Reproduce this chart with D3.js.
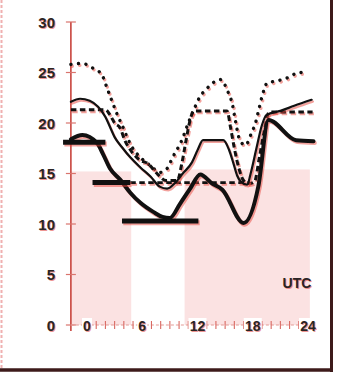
<!DOCTYPE html>
<html>
<head>
<meta charset="utf-8">
<script src="https://cdn.jsdelivr.net/npm/d3@7"></script>
<style>
  body { margin: 0; background: #fff; }
  svg { display: block; }
  text { font-family: "Liberation Sans", Arial, sans-serif; font-weight: bold; }
</style>
</head>
<body>
<script>
// ---- data (hour UTC, temperature) ----
const yTicks = [0, 5, 10, 15, 20, 25, 30];
const xTickLabels = [0, 6, 12, 18, 24];
const xMinorTicks = [1, 2, 3, 4, 5, 7, 8, 9, 10, 11, 13, 14, 15, 16, 17, 19, 20, 21, 22, 23];

// dotted upper line
const hiHours = [-1.75,-0.5,0.5,1.6,2.2,2.7,3.3,3.9,4.4,4.9,5.8,7.0,7.9,8.7,9.3,10.3,11.0,11.6,12.2,13.0,14.5,15.3,15.8,16.1,16.6,17.2,17.9,18.3,18.6,19.0,19.6,20.2,21.2,22.1,22.9,24.0];
const hiValues = [25.8,25.9,25.5,24.8,23.4,22.2,20.8,19.6,18.5,17.6,16.6,15.7,15.1,15.5,16.6,18.3,20.0,21.3,22.5,23.4,24.3,23.1,21.8,20.3,18.3,17.8,19.1,20.0,21.1,22.6,24.0,24.1,24.3,24.6,25.0,25.0];

// dashed line
const dashHours = [-1.75,2.0,2.5,3.0,3.6,4.1,4.9,5.8,6.6,7.6,8.6,9.8,10.3,10.8,11.2,11.6,15.2,15.6,16.0,16.5,17.0,17.6,18.2,18.7,19.2,19.8,24.5];
const dashValues = [21.3,21.3,20.8,20.0,19.5,18.3,17.1,16.3,16.0,15.0,14.3,14.3,16.0,18.5,20.3,21.2,21.2,19.5,17.5,15.5,14.3,14.0,14.2,16.5,19.0,21.1,21.1];

// thin solid line
const meanHours = [-1.75,-0.75,0.3,1.2,2.0,2.5,3.0,3.8,4.7,5.8,6.9,7.9,8.7,9.6,10.4,11.4,12.0,12.6,14.8,15.4,15.9,16.3,16.7,17.4,17.8,18.4,19.0,19.5,21.0,22.5,24.4];
const meanValues = [22.1,22.4,22.2,21.6,20.6,19.6,18.6,17.6,16.6,15.6,14.7,13.7,13.5,14.1,15.0,16.1,17.3,18.3,18.3,17.4,16.0,14.8,14.2,13.9,15.1,17.5,19.8,20.8,21.2,21.7,22.3];

// thick solid line
const obsHours = [-1.75,-0.5,1.1,1.7,2.5,3.6,4.7,5.8,7.2,8.2,9.0,10.1,11.2,12.3,13.6,14.7,17.0,18.6,19.7,22.7,24.6];
const obsValues = [18.4,18.8,18.0,17.0,15.5,14.4,13.1,12.1,11.2,10.7,10.6,12.0,13.5,14.9,14.0,13.4,10.1,13.7,20.3,18.3,18.2];

// thick horizontal bars [from hour, to hour, value]
const barSegments = [[-2.6, 2.0, 18.1], [0.6, 4.7, 14.1], [3.8, 12.1, 10.3]];
// dashed horizontal [from hour, to hour, value]
const dashSegments = [[4.7, 17.7, 14.1]];
// pink shaded periods [from hour, to hour, top value]
const shadePeriods = [[-1.75, 4.8, 15.2], [10.6, 24.2, 15.4]];

const width = 338, height = 378;

const x = d3.scaleLinear().domain([0, 24]).range([87, 308]);
const y = d3.scaleLinear().domain([0, 30]).range([325, 22]);
const axisX = x(-1.75);

const svg = d3.select("body").append("svg")
  .attr("width", width)
  .attr("height", height);

// frame
svg.append("rect").attr("x", 0).attr("y", 0).attr("width", width).attr("height", height).attr("fill", "#fff");
svg.append("line").attr("x1", 1.5).attr("x2", 1.5).attr("y1", 0).attr("y2", 370)
  .attr("stroke", "#f0b0b0").attr("stroke-width", 2).attr("stroke-dasharray", "3,2");
svg.append("line").attr("x1", 0).attr("x2", 333).attr("y1", 370).attr("y2", 370)
  .attr("stroke", "#3d1a1a").attr("stroke-width", 3.5);
svg.append("line").attr("x1", 331.5).attr("x2", 331.5).attr("y1", 0).attr("y2", 372)
  .attr("stroke", "#3d1a1a").attr("stroke-width", 3);

// pink shading
svg.append("g").selectAll("rect")
  .data(shadePeriods)
  .join("rect")
  .attr("x", d => x(d[0]))
  .attr("width", d => x(d[1]) - x(d[0]))
  .attr("y", d => y(d[2]))
  .attr("height", d => y(0) - y(d[2]))
  .attr("fill", "#f9cfcf")
  .attr("opacity", 0.6);

// y axis
const yAxis = svg.append("g");
yAxis.append("line").attr("x1", axisX).attr("x2", axisX).attr("y1", y(30)).attr("y2", y(0) + 6)
  .attr("stroke", "#c8443c").attr("stroke-width", 1.6);
yAxis.selectAll("line.tick")
  .data(yTicks)
  .join("line")
  .attr("class", "tick")
  .attr("x1", axisX - 5).attr("x2", axisX + 5)
  .attr("y1", d => y(d)).attr("y2", d => y(d))
  .attr("stroke", "#d9746d").attr("stroke-width", 1.2);

// x axis
const xAxis = svg.append("g");
xAxis.append("line").attr("x1", axisX).attr("x2", x(24.6)).attr("y1", y(0)).attr("y2", y(0))
  .attr("stroke", "#e39a95").attr("stroke-width", 1).attr("stroke-dasharray", "3,2");
xAxis.selectAll("line.tick")
  .data(xMinorTicks)
  .join("line")
  .attr("class", "tick")
  .attr("x1", d => x(d)).attr("x2", d => x(d))
  .attr("y1", y(0) - 4).attr("y2", y(0) + 4)
  .attr("stroke", "#d96a63").attr("stroke-width", 1.1);

// text with a red fringe, like the scan
function label(g, tx, ty, str, size, anchor) {
  g.append("text").attr("x", tx + 1).attr("y", ty + 1.2).text(str)
    .attr("font-size", size).attr("text-anchor", anchor).attr("dominant-baseline", "central")
    .attr("fill", "#e0403a").attr("opacity", 0.55);
  g.append("text").attr("x", tx).attr("y", ty).text(str)
    .attr("font-size", size).attr("text-anchor", anchor).attr("dominant-baseline", "central")
    .attr("fill", "#2b2424");
}

yTicks.forEach(v => label(yAxis, 55, y(v), String(v), 15, "end"));
xTickLabels.forEach(h => {
  xAxis.append("rect").attr("x", x(h) - (h < 10 ? 5 : 9)).attr("y", y(0) - 7)
    .attr("width", h < 10 ? 10 : 18).attr("height", 14).attr("fill", "#fff");
  label(xAxis, x(h), y(0) + 1, String(h), 14, "middle");
});
label(svg, 297, 283, "UTC", 14, "middle");

// lines
const line = d3.line()
  .x(d => x(d[0]))
  .y(d => y(d[1]))
  .curve(d3.curveMonotoneX);

const zip = (hs, vs) => hs.map((h, i) => [h, vs[i]]);

function drawPath(pts, width, dash, cap) {
  const g = svg.append("g");
  g.append("path").attr("d", line(pts))
    .attr("fill", "none").attr("stroke", "#e8453c").attr("stroke-opacity", 0.5)
    .attr("stroke-width", width).attr("stroke-dasharray", dash)
    .attr("stroke-linecap", cap).attr("stroke-linejoin", "round")
    .attr("transform", "translate(1.3,1.8)");
  g.append("path").attr("d", line(pts))
    .attr("fill", "none").attr("stroke", "#111")
    .attr("stroke-width", width).attr("stroke-dasharray", dash)
    .attr("stroke-linecap", cap).attr("stroke-linejoin", "round");
}

drawPath(zip(hiHours, hiValues), 3.4, "0.1,7.5", "round");
drawPath(zip(dashHours, dashValues), 3, "5.5,3.5", "butt");
dashSegments.forEach(s => drawPath([[s[0], s[2]], [s[1], s[2]]], 2.6, "5.5,3.5", "butt"));
drawPath(zip(meanHours, meanValues), 2.2, null, "round");
drawPath(zip(obsHours, obsValues), 4, null, "round");
barSegments.forEach(s => drawPath([[s[0], s[2]], [s[1], s[2]]], 5, null, "butt"));
</script>
</body>
</html>
